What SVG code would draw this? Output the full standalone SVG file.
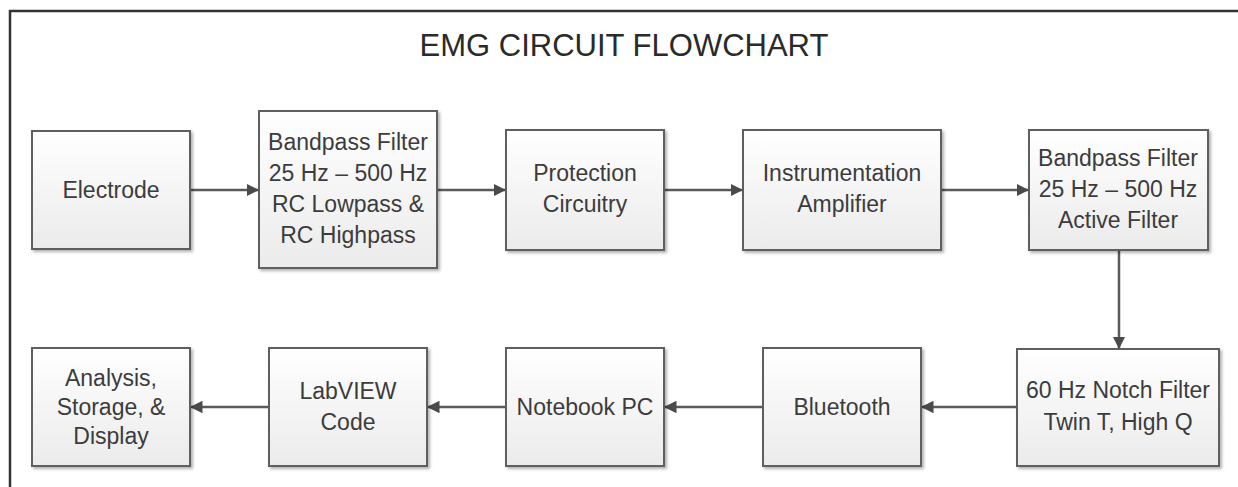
<svg xmlns="http://www.w3.org/2000/svg" width="1238" height="487" viewBox="0 0 1238 487">
<style>
.box{fill:url(#g);stroke:#5f5f5f;stroke-width:2;filter:url(#sh)}
.t{font-family:"Liberation Sans",Arial,sans-serif;font-size:23px;fill:#3c3c3c;text-anchor:middle}
.title{font-family:"Liberation Sans",Arial,sans-serif;font-size:31px;fill:#2a2a2a;text-anchor:middle}
.c{stroke:#5a5a5a;stroke-width:2.5;fill:none;marker-end:url(#ah)}
</style>
<defs>
<linearGradient id="g" x1="0" y1="0" x2="0" y2="1"><stop offset="0" stop-color="#ffffff"/><stop offset="1" stop-color="#ebebeb"/></linearGradient>
<filter id="sh" x="-10%" y="-10%" width="130%" height="130%"><feDropShadow dx="2" dy="2" stdDeviation="1.5" flood-color="#000" flood-opacity="0.3"/></filter>
<marker id="ah" viewBox="0 0 10 10" refX="10" refY="5" markerWidth="5" markerHeight="5" orient="auto" markerUnits="strokeWidth"><path d="M0,0 L10,5 L0,10 z" fill="#4a4a4a"/></marker>
</defs>
<rect width="1238" height="487" fill="#ffffff"/>
<path d="M10,487 V11 H1238" fill="none" stroke="#333" stroke-width="2.5"/>
<text class="title" x="624" y="56">EMG CIRCUIT FLOWCHART</text>
<g id="connectors">
<line class="c" x1="190" y1="190" x2="259" y2="190"/>
<line class="c" x1="437" y1="190" x2="506" y2="190"/>
<line class="c" x1="664" y1="190" x2="743" y2="190"/>
<line class="c" x1="941" y1="190" x2="1029" y2="190"/>
<line class="c" x1="1119" y1="250" x2="1119" y2="349"/>
<line class="c" x1="1017" y1="407" x2="921" y2="407"/>
<line class="c" x1="763" y1="407" x2="664" y2="407"/>
<line class="c" x1="506" y1="407" x2="427" y2="407"/>
<line class="c" x1="269" y1="407" x2="190" y2="407"/>
</g>
<g id="electrode"><rect class="box" x="32" y="131" width="158" height="118"/><text class="t" x="111" y="198">Electrode</text></g>
<g id="bandpass1"><rect class="box" x="259" y="111" width="178" height="157"/><text class="t" x="348" y="150">Bandpass Filter</text><text class="t" x="348" y="181">25 Hz – 500 Hz</text><text class="t" x="348" y="212">RC Lowpass &amp;</text><text class="t" x="348" y="243">RC Highpass</text></g>
<g id="protection"><rect class="box" x="506" y="130" width="158" height="120"/><text class="t" x="585" y="181">Protection</text><text class="t" x="585" y="212">Circuitry</text></g>
<g id="instrumentation"><rect class="box" x="743" y="130" width="198" height="120"/><text class="t" x="842" y="181">Instrumentation</text><text class="t" x="842" y="212">Amplifier</text></g>
<g id="bandpass2"><rect class="box" x="1029" y="130" width="179" height="120"/><text class="t" x="1118" y="166">Bandpass Filter</text><text class="t" x="1118" y="197">25 Hz – 500 Hz</text><text class="t" x="1118" y="228">Active Filter</text></g>
<g id="notch"><rect class="box" x="1017" y="349" width="202" height="117"/><text class="t" x="1118" y="398">60 Hz Notch Filter</text><text class="t" x="1118" y="430">Twin T, High Q</text></g>
<g id="bluetooth"><rect class="box" x="763" y="348" width="158" height="118"/><text class="t" x="842" y="415">Bluetooth</text></g>
<g id="notebook"><rect class="box" x="506" y="348" width="158" height="118"/><text class="t" x="585" y="415">Notebook PC</text></g>
<g id="labview"><rect class="box" x="269" y="348" width="158" height="118"/><text class="t" x="348" y="399">LabVIEW</text><text class="t" x="348" y="430">Code</text></g>
<g id="analysis"><rect class="box" x="32" y="348" width="158" height="118"/><text class="t" x="111" y="386">Analysis,</text><text class="t" x="111" y="415">Storage, &amp;</text><text class="t" x="111" y="444">Display</text></g>
</svg>
